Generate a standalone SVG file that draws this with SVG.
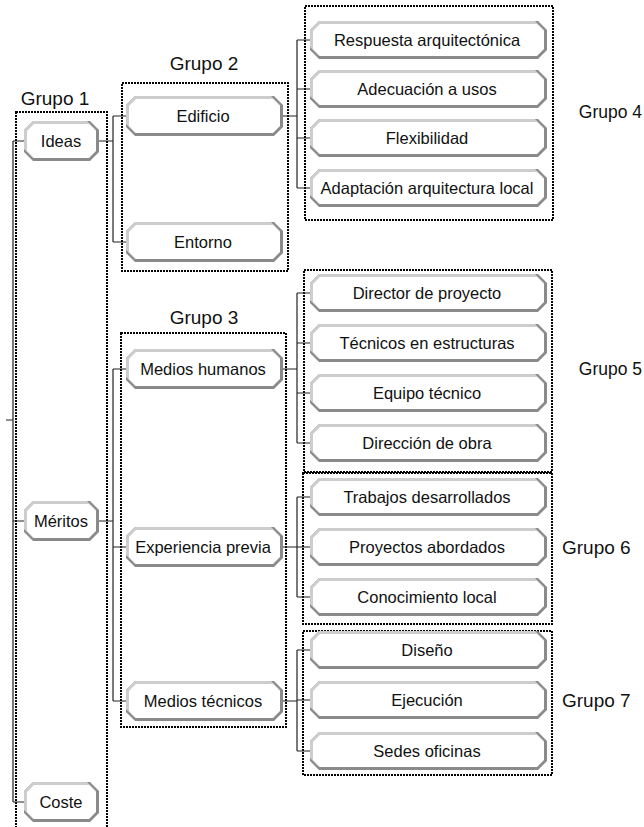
<svg xmlns="http://www.w3.org/2000/svg" xmlns:xlink="http://www.w3.org/1999/xlink" width="644" height="827" viewBox="0 0 644 827">
<style>
.t{font-family:"Liberation Sans",Arial,sans-serif;font-size:16.5px;fill:#111;text-anchor:middle}
.g{font-family:"Liberation Sans",Arial,sans-serif;font-size:19px;fill:#111}
.gc{text-anchor:middle}
.ge{text-anchor:end;font-size:17.5px}
.box{fill:none;stroke:#000;stroke-width:2;stroke-dasharray:2 1}
.c{fill:none;stroke:#222;stroke-width:1.2}
.dk{fill:#8a8a8a}.lt{fill:#cdcdcd}.wh{fill:#fff}
</style>
<defs>
<g id="nS">
<polygon class="dk" points="9,0 66,0 75,9 75,31 66,40 9,40 0,31 0,9"/>
<polygon class="lt" points="9,0 63,0 72,9 72,28 63,37 9,37 0,28 0,9"/>
<polygon class="wh" points="10,3 65,3 72,10 72,30 65,37 10,37 3,30 3,10"/>
</g>
<g id="nM">
<polygon class="dk" points="9,0 148,0 157,9 157,31 148,40 9,40 0,31 0,9"/>
<polygon class="lt" points="9,0 145,0 154,9 154,28 145,37 9,37 0,28 0,9"/>
<polygon class="wh" points="10,3 147,3 154,10 154,30 147,37 10,37 3,30 3,10"/>
</g>
<g id="nL">
<polygon class="dk" points="9,0 228,0 237,9 237,29 228,38 9,38 0,29 0,9"/>
<polygon class="lt" points="9,0 225,0 234,9 234,26 225,35 9,35 0,26 0,9"/>
<polygon class="wh" points="10,3 227,3 234,10 234,28 227,35 10,35 3,28 3,10"/>
</g>
</defs>
<rect width="644" height="827" fill="#fff"/>

<g id="groups">
<rect class="box" x="16" y="112" width="91" height="720"/>
<rect class="box" x="122" y="83" width="166" height="188"/>
<rect class="box" x="121" y="333" width="165" height="394"/>
<rect class="box" x="305" y="6" width="248" height="214"/>
<rect class="box" x="304" y="270" width="248" height="202"/>
<rect class="box" x="303" y="473" width="249" height="151"/>
<rect class="box" x="303" y="631" width="249" height="144"/>
<text class="g gc" x="55" y="105">Grupo 1</text>
<text class="g gc" x="204" y="70">Grupo 2</text>
<text class="g gc" x="204" y="324">Grupo 3</text>
<text class="g ge" x="642" y="118">Grupo 4</text>
<text class="g ge" x="642" y="375">Grupo 5</text>
<text class="g" x="562" y="554">Grupo 6</text>
<text class="g" x="562" y="707">Grupo 7</text>
</g>

<g id="connectors">
<path class="c" d="M6,420H13M13,141V802M13,141H24M13,521H24M13,802H24"/>
<path class="c" d="M99,141H113M113,116V242M113,116H126M113,242H126"/>
<path class="c" d="M99,521H113M113,369V701M113,369H126M113,547H126M113,701H126"/>
<path class="c" d="M283,116H297M297,40V188M297,40H310M297,89H310M297,138H310M297,188H310"/>
<path class="c" d="M283,369H297M297,293V443M297,293H310M297,343H310M297,393H310M297,443H310"/>
<path class="c" d="M283,547H297M297,497V597M297,497H310M297,547H310M297,597H310"/>
<path class="c" d="M283,701H297M297,650V751M297,650H310M297,700H310M297,751H310"/>
</g>

<g id="ideas"><use xlink:href="#nS" x="24" y="121"/><text class="t" x="61" y="147">Ideas</text></g>
<g id="meritos"><use xlink:href="#nS" x="24" y="501"/><text class="t" x="61" y="527">Méritos</text></g>
<g id="coste"><use xlink:href="#nS" x="24" y="782"/><text class="t" x="61" y="808">Coste</text></g>

<g id="edificio"><use xlink:href="#nM" x="126" y="96"/><text class="t" x="203" y="122">Edificio</text></g>
<g id="entorno"><use xlink:href="#nM" x="126" y="222"/><text class="t" x="203" y="248">Entorno</text></g>

<g id="medios-humanos"><use xlink:href="#nM" x="126" y="349"/><text class="t" x="203" y="375">Medios humanos</text></g>
<g id="experiencia-previa"><use xlink:href="#nM" x="126" y="527"/><text class="t" x="203" y="553">Experiencia previa</text></g>
<g id="medios-tecnicos"><use xlink:href="#nM" x="126" y="681"/><text class="t" x="203" y="707">Medios técnicos</text></g>

<g id="respuesta"><use xlink:href="#nL" x="310" y="21"/><text class="t" x="427" y="46">Respuesta arquitectónica</text></g>
<g id="adecuacion"><use xlink:href="#nL" x="310" y="70"/><text class="t" x="427" y="95">Adecuación a usos</text></g>
<g id="flexibilidad"><use xlink:href="#nL" x="310" y="119"/><text class="t" x="427" y="144">Flexibilidad</text></g>
<g id="adaptacion"><use xlink:href="#nL" x="310" y="169"/><text class="t" x="427" y="194">Adaptación arquitectura local</text></g>

<g id="director"><use xlink:href="#nL" x="310" y="274"/><text class="t" x="427" y="299">Director de proyecto</text></g>
<g id="tecnicos"><use xlink:href="#nL" x="310" y="324"/><text class="t" x="427" y="349">Técnicos en estructuras</text></g>
<g id="equipo"><use xlink:href="#nL" x="310" y="374"/><text class="t" x="427" y="399">Equipo técnico</text></g>
<g id="direccion"><use xlink:href="#nL" x="310" y="424"/><text class="t" x="427" y="449">Dirección de obra</text></g>

<g id="trabajos"><use xlink:href="#nL" x="310" y="478"/><text class="t" x="427" y="503">Trabajos desarrollados</text></g>
<g id="proyectos"><use xlink:href="#nL" x="310" y="528"/><text class="t" x="427" y="553">Proyectos abordados</text></g>
<g id="conocimiento"><use xlink:href="#nL" x="310" y="578"/><text class="t" x="427" y="603">Conocimiento local</text></g>

<g id="diseno"><use xlink:href="#nL" x="310" y="631"/><text class="t" x="427" y="656">Diseño</text></g>
<g id="ejecucion"><use xlink:href="#nL" x="310" y="681"/><text class="t" x="427" y="706">Ejecución</text></g>
<g id="sedes"><use xlink:href="#nL" x="310" y="732"/><text class="t" x="427" y="757">Sedes oficinas</text></g>
</svg>
